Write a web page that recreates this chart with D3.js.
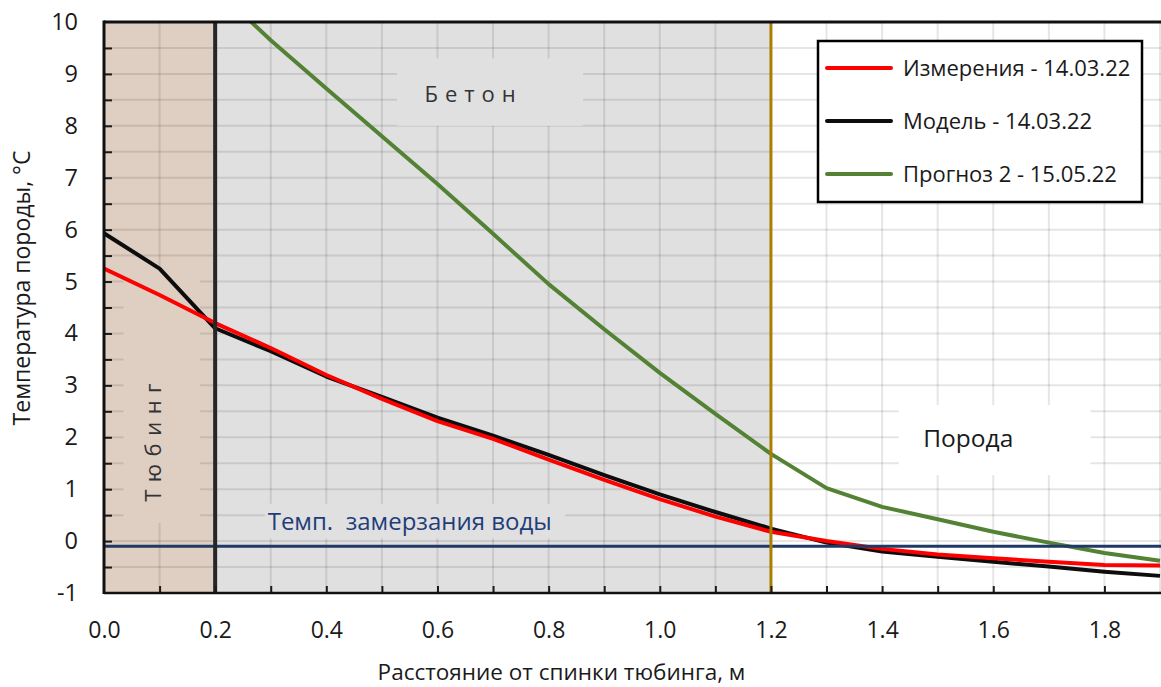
<!DOCTYPE html>
<html>
<head>
<meta charset="utf-8">
<script src="https://cdn.jsdelivr.net/npm/d3@7"></script>
<style>
  body { margin: 0; background: #fff; }
  svg { display: block; font-family: "Open Sans", sans-serif; }
</style>
</head>
<body>
<svg id="chart" width="1161" height="687"></svg>
<script>
// Distances from the back of the segment, m
const distances = [0, 0.1, 0.2, 0.3, 0.4, 0.5, 0.6, 0.7, 0.8, 0.9, 1.0, 1.1, 1.2, 1.3, 1.4, 1.5, 1.6, 1.7, 1.8, 1.9];
const measured = [5.25, 4.74, 4.2, 3.72, 3.2, 2.74, 2.31, 1.97, 1.57, 1.18, 0.81, 0.47, 0.18, 0.0, -0.15, -0.26, -0.33, -0.4, -0.46, -0.47];
const model = [5.93, 5.25, 4.1, 3.66, 3.17, 2.78, 2.38, 2.03, 1.66, 1.27, 0.9, 0.56, 0.24, -0.03, -0.2, -0.3, -0.4, -0.49, -0.59, -0.67];
const forecastDistances = [0.2, 0.3, 0.4, 0.5, 0.6, 0.7, 0.8, 0.9, 1.0, 1.1, 1.2, 1.3, 1.4, 1.5, 1.6, 1.7, 1.8, 1.9];
const forecast = [10.65, 9.65, 8.72, 7.8, 6.88, 5.92, 4.95, 4.08, 3.24, 2.45, 1.68, 1.02, 0.66, 0.42, 0.18, -0.03, -0.23, -0.38];

const freezeTemp = -0.1;
const zones = [
  { name: "Тюбинг", from: 0, to: 0.2 },
  { name: "Бетон", from: 0.2, to: 1.2 },
  { name: "Порода", from: 1.2, to: 1.9 }
];
const xTickLabels = ["0.0", "0.2", "0.4", "0.6", "0.8", "1.0", "1.2", "1.4", "1.6", "1.8"];
const yTickLabels = [-1, 0, 1, 2, 3, 4, 5, 6, 7, 8, 9, 10];
const seriesNames = ["Измерения - 14.03.22", "Модель - 14.03.22", "Прогноз 2 - 15.05.22"];

const colors = { measured: "#ff0000", model: "#0d0d0d", forecast: "#548235" };

const svg = d3.select("#chart");
const plotLeft = 104, plotRight = 1161, plotTop = 22, plotBottom = 593;

const x = d3.scaleLinear().domain([0, 1.9]).range([plotLeft, plotRight - 1]);
const y = d3.scaleLinear().domain([-1, 10]).range([plotBottom, plotTop]);

svg.append("defs").append("clipPath").attr("id", "plot")
  .append("rect")
  .attr("x", plotLeft).attr("y", plotTop)
  .attr("width", plotRight - plotLeft).attr("height", plotBottom - plotTop);

// zone backgrounds
svg.append("rect")
  .attr("x", x(zones[0].from)).attr("y", plotTop)
  .attr("width", x(zones[0].to) - x(zones[0].from)).attr("height", plotBottom - plotTop)
  .attr("fill", "#dfcec2");
svg.append("rect")
  .attr("x", x(zones[1].from)).attr("y", plotTop)
  .attr("width", x(zones[1].to) - x(zones[1].from)).attr("height", plotBottom - plotTop)
  .attr("fill", "#e0e0e0");

// gridlines
const grid = svg.append("g").attr("stroke", "#000").attr("stroke-opacity", 0.1).attr("stroke-width", 2);
grid.selectAll(".h")
  .data(d3.range(-0.5, 10, 0.5))
  .enter().append("line")
  .attr("x1", plotLeft).attr("x2", plotRight)
  .attr("y1", (d) => y(d)).attr("y2", (d) => y(d));
grid.selectAll(".v")
  .data(d3.range(1, 20).map((i) => i / 10))
  .enter().append("line")
  .attr("x1", (d) => x(d)).attr("x2", (d) => x(d))
  .attr("y1", plotTop).attr("y2", plotBottom);

// label boxes (hide gridlines behind zone names)
svg.append("rect")
  .attr("x", x(0.035)).attr("y", y(5.2))
  .attr("width", x(0.173) - x(0.035)).attr("height", y(0.35) - y(5.2))
  .attr("fill", "#dfcec2");
svg.append("rect")
  .attr("x", x(0.527)).attr("y", y(9.3))
  .attr("width", x(0.862) - x(0.527)).attr("height", y(8.0) - y(9.3))
  .attr("fill", "#e0e0e0");
svg.append("rect")
  .attr("x", x(1.43)).attr("y", y(2.62))
  .attr("width", x(1.775) - x(1.43)).attr("height", y(1.27) - y(2.62))
  .attr("fill", "#fff");
svg.append("rect")
  .attr("x", x(0.29)).attr("y", y(0.72))
  .attr("width", x(0.83) - x(0.29)).attr("height", y(0.05) - y(0.72))
  .attr("fill", "#e0e0e0");

// zone names
svg.append("text")
  .attr("transform", `translate(${x(0.088)},${y(1.97)}) rotate(-90)`)
  .attr("text-anchor", "middle").attr("dy", "0.35em")
  .attr("font-size", 22).attr("letter-spacing", 7.5).attr("fill", "#333")
  .text(zones[0].name);
svg.append("text")
  .attr("x", x(0.665)).attr("y", y(8.6)).attr("dy", "0.35em")
  .attr("text-anchor", "middle")
  .attr("font-size", 22).attr("letter-spacing", 7).attr("fill", "#333")
  .text(zones[1].name);
svg.append("text")
  .attr("x", x(1.555)).attr("y", y(1.98)).attr("dy", "0.35em")
  .attr("text-anchor", "middle")
  .attr("font-size", 24.5).attr("fill", "#1a1a1a")
  .text(zones[2].name);

// freezing temperature label
svg.append("text")
  .attr("x", x(0.55)).attr("y", y(0.38)).attr("dy", "0.35em")
  .attr("text-anchor", "middle").style("white-space", "pre")
  .attr("font-size", 24).attr("fill", "#1f3d7a")
  .text("Темп.  замерзания воды");

// series
const plot = svg.append("g").attr("clip-path", "url(#plot)");
const line = d3.line().x((d) => x(d[0])).y((d) => y(d[1]));

plot.append("path")
  .datum(d3.zip(distances, model))
  .attr("fill", "none").attr("stroke", colors.model).attr("stroke-width", 4)
  .attr("stroke-linejoin", "round").attr("d", line);
plot.append("path")
  .datum(d3.zip(distances, measured))
  .attr("fill", "none").attr("stroke", colors.measured).attr("stroke-width", 4)
  .attr("stroke-linejoin", "round").attr("d", line);
plot.append("path")
  .datum(d3.zip(forecastDistances, forecast))
  .attr("fill", "none").attr("stroke", colors.forecast).attr("stroke-width", 4)
  .attr("stroke-linejoin", "round").attr("d", line);

// freezing line
svg.append("line")
  .attr("x1", plotLeft).attr("x2", plotRight)
  .attr("y1", y(freezeTemp)).attr("y2", y(freezeTemp))
  .attr("stroke", "#203864").attr("stroke-width", 3);

// zone boundaries
svg.append("line")
  .attr("x1", x(0.2)).attr("x2", x(0.2))
  .attr("y1", plotTop).attr("y2", plotBottom)
  .attr("stroke", "#262626").attr("stroke-width", 4);
svg.append("line")
  .attr("x1", x(1.2)).attr("x2", x(1.2))
  .attr("y1", plotTop).attr("y2", plotBottom)
  .attr("stroke", "#a87f00").attr("stroke-width", 3);

// axes
svg.append("g")
  .attr("transform", `translate(${plotLeft},0)`)
  .call(d3.axisRight(y).tickValues(d3.range(-0.5, 10, 0.5)).tickSize(8).tickFormat(""))
  .call((g) => g.select(".domain").remove())
  .call((g) => g.selectAll("line").attr("stroke", "#1a1a1a").attr("stroke-width", 2));
svg.append("g")
  .attr("transform", `translate(0,${plotBottom})`)
  .call(d3.axisTop(x).tickValues(d3.range(1, 19).map((i) => i / 10)).tickSize(7).tickFormat(""))
  .call((g) => g.select(".domain").remove())
  .call((g) => g.selectAll("line").attr("stroke", "#1a1a1a").attr("stroke-width", 2));

svg.append("g")
  .attr("transform", `translate(${plotLeft},0)`)
  .call(d3.axisLeft(y).tickValues(yTickLabels).tickFormat((d) => String(d)).tickSize(0).tickPadding(26))
  .call((g) => g.select(".domain").remove())
  .call((g) => g.selectAll("text").attr("font-size", 23.5).attr("fill", "#1a1a1a").attr("font-family", "Open Sans"));
svg.append("g")
  .attr("transform", `translate(0,${plotBottom})`)
  .call(d3.axisBottom(x).tickValues(xTickLabels.map(Number)).tickFormat((d, i) => xTickLabels[i]).tickSize(0).tickPadding(29))
  .call((g) => g.select(".domain").remove())
  .call((g) => g.selectAll("text").attr("font-size", 23).attr("fill", "#1a1a1a").attr("font-family", "Open Sans"));

// plot frame
svg.append("line")
  .attr("x1", plotLeft).attr("x2", plotRight).attr("y1", plotTop).attr("y2", plotTop)
  .attr("stroke", "#111").attr("stroke-width", 3);
svg.append("line")
  .attr("x1", plotLeft).attr("x2", plotRight).attr("y1", plotBottom).attr("y2", plotBottom)
  .attr("stroke", "#111").attr("stroke-width", 2.5);
svg.append("line")
  .attr("x1", plotLeft).attr("x2", plotLeft).attr("y1", plotTop - 1.5).attr("y2", plotBottom + 1)
  .attr("stroke", "#111").attr("stroke-width", 3);

// axis titles
svg.append("text")
  .attr("x", (378 + 745) / 2).attr("y", 680)
  .attr("text-anchor", "middle").attr("font-size", 22.5).attr("fill", "#1a1a1a")
  .text("Расстояние от спинки тюбинга, м");
svg.append("text")
  .attr("transform", "translate(22,288) rotate(-90)")
  .attr("text-anchor", "middle").attr("dy", "0.35em")
  .attr("font-size", 23).attr("fill", "#1a1a1a")
  .text("Температура породы, °C");

// legend
const legend = svg.append("g").attr("transform", "translate(818,41)");
legend.append("rect")
  .attr("width", 324).attr("height", 161)
  .attr("fill", "#fff").attr("stroke", "#000").attr("stroke-width", 2.5);
const legendColors = [colors.measured, colors.model, colors.forecast];
seriesNames.forEach((name, i) => {
  const ly = 27 + i * 53;
  legend.append("line")
    .attr("x1", 9).attr("x2", 73).attr("y1", ly).attr("y2", ly)
    .attr("stroke", legendColors[i]).attr("stroke-width", 4).attr("stroke-linecap", "round");
  legend.append("text")
    .attr("x", 85).attr("y", ly).attr("dy", "0.35em")
    .attr("font-size", 22).attr("fill", "#1a1a1a")
    .text(name);
});
</script>
</body>
</html>
